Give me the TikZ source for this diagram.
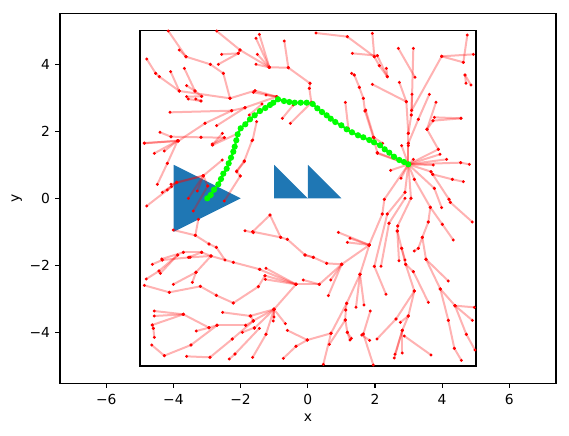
\documentclass[tikz,border=0pt]{standalone}
\usepackage{fontspec}
\setmainfont{DejaVu Sans}
\definecolor{mplblue}{HTML}{1F77B4}
\definecolor{lime}{HTML}{00FF00}
\tikzset{
  edge/.style={draw=red, opacity=0.3, line width=0.04cm},
  dot/.style={circle, fill=red, inner sep=0pt, minimum size=0.066cm, draw=none},
  gdot/.style={circle, fill=lime, inner sep=0pt, minimum size=0.125cm, draw=none},
  gline/.style={draw=lime, line width=0.04cm},
  tick/.style={line width=0.022cm},
  lbl/.style={font=\fontsize{7.87}{9}\selectfont, inner sep=0pt},
}
\newcommand\ed[2]{\draw[edge] (#1) -- (#2); \node[dot] at (#1) {}; \node[dot] at (#2) {};}
\begin{document}
\begin{tikzpicture}[x=0.02cm, y=-0.02cm]
\useasboundingbox (0,0) rectangle (569,436);
% obstacles
\fill[mplblue] (173.6,164.8) -- (173.6,231.9) -- (240.7,198.3) -- cycle;
\fill[mplblue] (274.2,164.8) -- (274.2,198.3) -- (307.8,198.3) -- cycle;
\fill[mplblue] (307.8,164.8) -- (307.8,198.3) -- (341.4,198.3) -- cycle;
% boundary square
\draw[black, line width=0.04cm] (140,30.5) rectangle (475.6,366.1);
% tree, region 1
\begin{scope}[shift={(135,25)}, scale=0.33333]
\ed{100,18}{153,95}
\ed{133,75}{153,95}
\ed{153,95}{226,118}
\ed{226,118}{265,145}
\ed{265,145}{285,220}
\ed{245,18}{315,75}
\ed{260,88}{310,85}
\ed{310,85}{315,75}
\ed{250,118}{310,85}
\ed{315,75}{403,127}
\ed{35,102}{62,145}
\ed{62,145}{73,155}
\ed{73,155}{133,198}
\ed{107,140}{133,198}
\ed{133,198}{285,220}
\ed{148,130}{180,198}
\ed{180,198}{200,214}
\ed{155,182}{180,198}
\ed{155,215}{200,214}
\ed{160,222}{198,228}
\ed{182,222}{198,228}
\ed{285,220}{360,197}
\ed{105,262}{290,257}
\ed{290,257}{330,248}
\ed{330,248}{425,215}
\ed{210,295}{290,257}
\ed{245,302}{330,248}
\ed{75,322}{108,335}
\ed{108,335}{198,337}
\ed{198,337}{268,338}
\ed{130,348}{210,295}
\ed{28,354}{130,348}
\ed{232,357}{268,338}
\end{scope}
% region 2
\begin{scope}[shift={(250,25)}, scale=0.33333]
\ed{28,28}{58,127}
\ed{18,40}{58,127}
\ed{103,48}{115,128}
\ed{22,88}{58,127}
\ed{18,118}{58,127}
\ed{58,127}{115,128}
\ed{115,128}{180,175}
\ed{180,175}{178,190}
\ed{178,190}{184,232}
\ed{198,24}{292,35}
\ed{292,35}{373,95}
\ed{307,85}{382,92}
\ed{305,145}{313,150}
\ed{313,150}{328,187}
\ed{328,187}{340,220}
\ed{340,220}{345,258}
\ed{286,232}{295,310}
\ed{15,197}{80,215}
\ed{48,210}{80,215}
\ed{10,202}{80,215}
\ed{97,280}{130,240}
\ed{121,295}{185,232}
\ed{8,345}{20,290}
\end{scope}
% links near goal
\ed{365,111}{373.3,137.3}
\ed{373.3,137.3}{377.3,152.7}
\ed{377.3,152.7}{408.3,164.3}
\ed{212.7,145}{238.3,133.3}
\ed{252,140.7}{244.3,161}
\ed{244.3,161}{236.7,171}
\ed{249.3,115}{262,104}
% region 3
\begin{scope}[shift={(365,25)}, scale=0.33333]
\ed{22,25}{28,95}
\ed{28,95}{43,122}
\ed{37,92}{67,155}
\ed{43,122}{67,155}
\ed{64,130}{67,155}
\ed{100,70}{150,157}
\ed{145,70}{140,256}
\ed{230,94}{325,88}
\ed{230,94}{295,112}
\ed{307,30}{295,112}
\ed{300,150}{318,180}
\ed{300,150}{303,175}
\ed{230,94}{140,256}
\ed{22,178}{124,230}
\ed{103,172}{124,230}
\ed{124,230}{130,325}
\ed{141,208}{139,270}
\ed{139,270}{130,325}
\ed{193,208}{160,283}
\ed{213,232}{186,313}
\ed{204,287}{288,280}
\ed{208,277}{288,280}
\ed{186,313}{204,287}
\ed{130,325}{130,355}
\ed{160,283}{130,355}
\ed{130,355}{130,418}
\ed{2,255}{27,338}
\ed{27,338}{53,355}
\end{scope}
% region 6 (goal)
\begin{scope}[shift={(365,140)}, scale=0.33333]
\ed{130,73}{110,17}
\ed{130,73}{130,17}
\ed{130,73}{220,28}
\ed{220,28}{186,-32}
\ed{130,73}{225,43}
\ed{130,73}{245,58}
\ed{130,73}{205,75}
\ed{130,73}{287,68}
\ed{287,68}{313,73}
\ed{130,73}{145,58}
\ed{130,73}{77,91}
\ed{130,73}{198,95}
\ed{198,95}{203,103}
\ed{203,103}{262,118}
\ed{262,118}{295,125}
\ed{130,73}{148,118}
\ed{130,73}{108,115}
\ed{130,73}{120,157}
\ed{130,73}{58,178}
\ed{58,178}{52,222}
\ed{52,222}{12,316}
\ed{130,73}{138,175}
\ed{130,73}{208,145}
\ed{208,145}{230,203}
\ed{203,103}{252,178}
\ed{252,178}{256,187}
\ed{256,187}{322,246}
\ed{148,118}{196,202}
\ed{196,202}{190,246}
\ed{120,157}{67,222}
\ed{120,175}{72,250}
\ed{138,175}{98,258}
\ed{98,258}{97,273}
\ed{97,273}{110,325}
\ed{196,202}{232,253}
\ed{232,253}{265,300}
\ed{190,246}{172,292}
\ed{172,292}{160,325}
\ed{160,325}{148,333}
\ed{110,325}{120,360}
\ed{37,40}{130,73}
\end{scope}
% region 9
\begin{scope}[shift={(365,255)}, scale=0.33333]
\ed{28,34}{63,118}
\ed{48,34}{72,-95}
\ed{28,34}{67,-123}
\ed{102,17}{97,-72}
\ed{122,28}{148,108}
\ed{122,28}{110,-20}
\ed{148,108}{130,183}
\ed{148,108}{93,192}
\ed{122,28}{145,50}
\ed{145,50}{190,142}
\ed{183,13}{172,-53}
\ed{183,13}{250,78}
\ed{183,13}{226,102}
\ed{226,102}{270,152}
\ed{270,152}{328,157}
\ed{270,152}{322,196}
\ed{226,102}{250,196}
\ed{250,196}{268,280}
\ed{268,280}{289,316}
\ed{270,152}{304,238}
\ed{304,238}{330,285}
\ed{130,183}{106,202}
\ed{130,183}{112,226}
\ed{112,226}{90,298}
\ed{112,226}{88,309}
\ed{112,226}{112,294}
\ed{118,243}{198,300}
\ed{93,192}{36,252}
\ed{14,256}{-10,240}
\ed{16,168}{-5,237}
\ed{25,330}{-5,237}
\end{scope}
% region 4
\begin{scope}[shift={(135,140)}, scale=0.33333]
\ed{28,10}{128,2}
\ed{58,40}{128,2}
\ed{88,33}{128,2}
\ed{128,2}{97,70}
\ed{232,15}{262,-20}
\ed{67,133}{97,70}
\ed{108,133}{205,107}
\ed{125,127}{205,107}
\ed{205,107}{262,60}
\ed{205,107}{187,153}
\ed{205,107}{160,175}
\ed{205,107}{218,138}
\ed{82,157}{125,127}
\ed{97,150}{125,127}
\ed{175,213}{218,138}
\ed{35,198}{110,140}
\ed{268,183}{316,108}
\ed{305,95}{328,65}
\ed{316,108}{305,95}
\ed{115,270}{181,286}
\ed{181,286}{222,312}
\ed{222,312}{244,322}
\ed{181,286}{190,238}
\ed{244,322}{270,360}
\ed{330,272}{355,278}
\ed{145,337}{200,337}
\ed{200,337}{228,348}
\ed{80,357}{145,337}
\ed{160,352}{200,337}
\end{scope}
% region 5
\begin{scope}[shift={(250,140)}, scale=0.33333]
\ed{60,225}{8,275}
\ed{8,275}{92,292}
\ed{92,292}{112,298}
\ed{60,225}{92,292}
\ed{112,298}{165,345}
\ed{165,345}{190,352}
\ed{265,277}{358,315}
\ed{300,295}{358,315}
\ed{292,307}{358,315}
\ed{358,315}{275,373}
\ed{358,315}{330,403}
\end{scope}
% region 7
\begin{scope}[shift={(135,255)}, scale=0.33333]
\ed{52,28}{82,15}
\ed{82,15}{165,7}
\ed{165,7}{228,3}
\ed{228,3}{295,22}
\ed{295,22}{375,43}
\ed{72,48}{128,0}
\ed{76,55}{128,0}
\ed{34,72}{72,48}
\ed{183,52}{228,3}
\ed{172,82}{183,52}
\ed{115,88}{183,52}
\ed{28,91}{103,112}
\ed{103,112}{196,94}
\ed{196,94}{244,121}
\ed{244,121}{295,144}
\ed{295,144}{370,95}
\ed{58,168}{145,178}
\ed{58,183}{145,178}
\ed{52,210}{145,178}
\ed{145,178}{222,218}
\ed{52,210}{55,220}
\ed{55,220}{58,247}
\ed{184,228}{222,218}
\ed{222,218}{246,211}
\ed{246,211}{332,211}
\ed{263,172}{347,183}
\ed{332,211}{355,198}
\ed{347,183}{355,198}
\ed{50,270}{88,302}
\ed{88,302}{168,270}
\ed{168,270}{246,211}
\ed{155,304}{225,307}
\ed{225,307}{292,252}
\ed{292,252}{355,198}
\ed{322,232}{358,218}
\ed{283,312}{300,297}
\ed{300,297}{373,220}
\end{scope}
% region 8
\begin{scope}[shift={(250,255)}, scale=0.33333]
\ed{28,43}{138,88}
\ed{48,40}{138,88}
\ed{45,62}{138,88}
\ed{46,73}{138,88}
\ed{25,95}{45,62}
\ed{138,88}{208,88}
\ed{208,88}{275,28}
\ed{165,0}{190,7}
\ed{190,7}{230,25}
\ed{230,25}{275,28}
\ed{160,75}{208,88}
\ed{242,75}{275,28}
\ed{235,122}{275,28}
\ed{138,88}{72,163}
\ed{72,163}{0,183}
\ed{72,163}{10,197}
\ed{72,163}{13,220}
\ed{72,163}{48,238}
\ed{72,163}{72,186}
\ed{72,163}{70,198}
\ed{72,163}{106,206}
\ed{48,238}{8,307}
\ed{112,226}{172,255}
\ed{172,255}{243,235}
\ed{138,274}{172,255}
\ed{100,310}{138,274}
\ed{243,235}{290,145}
\ed{238,268}{286,195}
\ed{290,145}{287,165}
\ed{287,165}{286,195}
\ed{286,195}{292,232}
\ed{292,232}{300,255}
\ed{330,58}{290,145}
\ed{330,58}{318,157}
\ed{330,58}{342,150}
\ed{304,250}{292,232}
\ed{220,328}{243,235}
\end{scope}
% path
\draw[gline] plot coordinates {(207.3,198.3) (210.7,195) (214,189.7) (218.3,184.3) (221,179) (223.3,173.7) (226.7,168.7) (228.7,163.3) (231,157.7) (233.3,151.7) (234.7,146.7) (236.3,140.3) (237.7,134.3) (240.7,128.3) (245.3,124.3) (250,119.3) (254.7,115.3) (260,111) (265.3,108) (270,105) (273.3,102.7) (278,99.3) (284,101) (289.3,102) (294.7,102.7) (300.7,102.7) (306.7,102.7) (312.7,104) (317.3,108.3) (322,112) (326.7,115.3) (330.7,118.7) (335.3,122) (341.3,125.3) (346.7,129.3) (352,132.3) (358,135.3) (363.3,137.3) (369.3,140) (374,142.3) (380,145.3) (384.7,149.3) (389.3,152.7) (394,156.7) (399.3,160) (404,162) (408.3,164.3)};
\foreach \p in {(207.3,198.3),(210.7,195),(214,189.7),(218.3,184.3),(221,179),(223.3,173.7),(226.7,168.7),(228.7,163.3),(231,157.7),(233.3,151.7),(234.7,146.7),(236.3,140.3),(237.7,134.3),(240.7,128.3),(245.3,124.3),(250,119.3),(254.7,115.3),(260,111),(265.3,108),(270,105),(273.3,102.7),(278,99.3),(284,101),(289.3,102),(294.7,102.7),(300.7,102.7),(306.7,102.7),(312.7,104),(317.3,108.3),(322,112),(326.7,115.3),(330.7,118.7),(335.3,122),(341.3,125.3),(346.7,129.3),(352,132.3),(358,135.3),(363.3,137.3),(369.3,140),(374,142.3),(380,145.3),(384.7,149.3),(389.3,152.7),(394,156.7),(399.3,160),(404,162),(408.3,164.3)}
  \node[gdot] at \p {};
% axes frame
\draw[tick] (60,13.3) rectangle (556,383.3);
\foreach \xx/\t in {106.3/−6,173.4/−4,240.6/−2,307.8/0,375/2,442.1/4,509.3/6} {
  \draw[tick] (\xx,383.3) -- (\xx,388.2);
  \node[lbl] at (\xx,399.3) {\t};
}
\foreach \yy/\t in {64.3/4,131.3/2,198.3/0,265.3/−2,332.3/−4} {
  \draw[tick] (60,\yy) -- (55.1,\yy);
  \node[lbl, anchor=east] at (50.3,\yy) {\t};
}
\node[lbl] at (308,417.7) {x};
\node[lbl, rotate=90] at (16.7,198.3) {y};
\end{tikzpicture}
\end{document}
